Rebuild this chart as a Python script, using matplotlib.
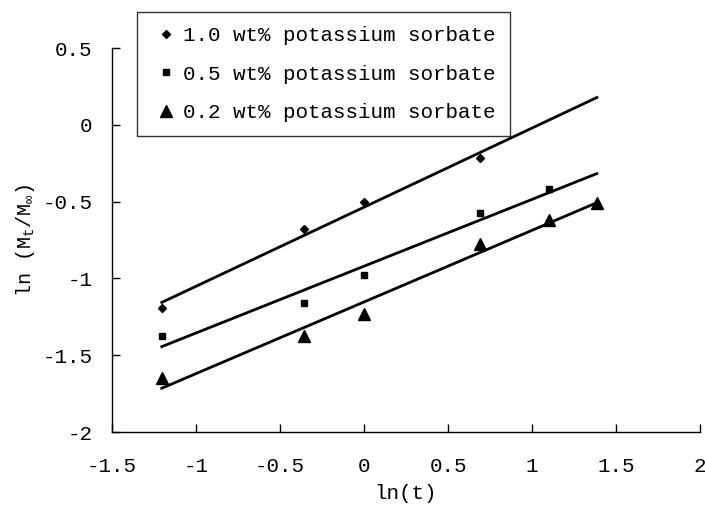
import numpy as np
import matplotlib
matplotlib.use("Agg")
import matplotlib.pyplot as plt

# ============================
# Data
# ============================

ln_t_10 = [-1.204, -0.357, 0.0, 0.693]
ln_m_10 = [-1.19, -0.68, -0.505, -0.217]

ln_t_05 = [-1.204, -0.357, 0.0, 0.693, 1.099]
ln_m_05 = [-1.373, -1.157, -0.979, -0.573, -0.42]

ln_t_02 = [-1.204, -0.357, 0.0, 0.693, 1.099, 1.386]
ln_m_02 = [-1.65, -1.378, -1.232, -0.778, -0.62, -0.508]

labels = ["1.0 wt% potassium sorbate",
          "0.5 wt% potassium sorbate",
          "0.2 wt% potassium sorbate"]

fit_range = [-1.204, 1.386]

# ============================
# Style
# ============================

plt.rcParams["font.family"] = ["Liberation Mono", "DejaVu Sans"]
plt.rcParams["mathtext.fontset"] = "custom"
plt.rcParams["mathtext.rm"] = "Liberation Mono"
plt.rcParams["mathtext.it"] = "Liberation Mono"

fig = plt.figure(figsize=(7.05, 5.14), dpi=100)
ax = fig.add_axes([0.1589, 0.1595, 0.834, 0.7471])

series = [
    (ln_t_10, ln_m_10, "D", 4.5),
    (ln_t_05, ln_m_05, "s", 4.5),
    (ln_t_02, ln_m_02, "^", 9),
]

xs_fit = np.array(fit_range)
for (x, y, m, ms), lab in zip(series, labels):
    ax.plot(x, y, linestyle="none", marker=m, markersize=ms,
            color="black", label=lab)
    # linear trend line
    k, b = np.polyfit(x, y, 1)
    ax.plot(xs_fit, k * xs_fit + b, color="black", lw=2)

ax.set_xlim(-1.5, 2)
ax.set_ylim(-2, 0.5)
ax.set_xticks([-1.5, -1, -0.5, 0, 0.5, 1, 1.5, 2])
ax.set_xticklabels(["-1.5", "-1", "-0.5", "0", "0.5", "1", "1.5", "2"])
ax.set_yticks([-2, -1.5, -1, -0.5, 0, 0.5])
ax.set_yticklabels(["-2", "-1.5", "-1", "-0.5", "0", "0.5"])

for s in ["top", "right"]:
    ax.spines[s].set_visible(False)
for s in ["left", "bottom"]:
    ax.spines[s].set_linewidth(1)

ax.tick_params(direction="in", length=6, width=1, labelsize=15)
ax.tick_params(axis="y", pad=14)
ax.tick_params(axis="x", pad=18)

ax.set_xlabel("ln(t)", fontsize=15, labelpad=6)
ax.set_ylabel(r"ln (M$_\mathrm{t}$/M$_\infty$)", fontsize=14.5, labelpad=4)

leg = ax.legend(loc="upper left", bbox_to_anchor=(0.0425, 1.094),
                borderaxespad=0, fontsize=15, frameon=True, fancybox=False,
                edgecolor="black", handlelength=1.4, handletextpad=0.1,
                labelspacing=0.92, borderpad=0.7)
leg.get_frame().set_linewidth(1)

fig.savefig("out.png", dpi=100)
plt.close(fig)
